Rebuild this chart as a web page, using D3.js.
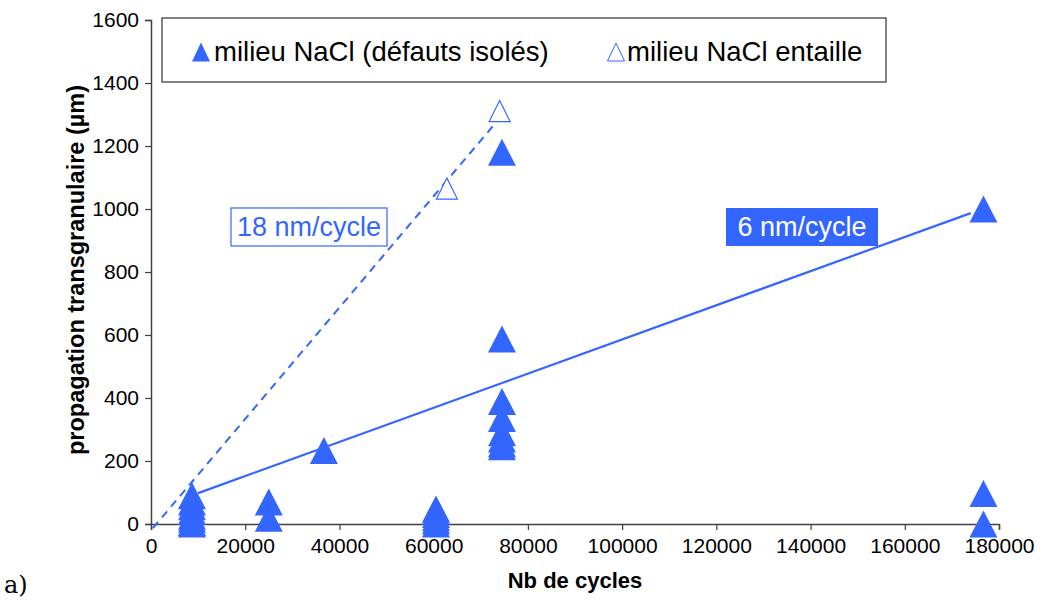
<!DOCTYPE html>
<html>
<head>
<meta charset="utf-8">
<script src="https://cdn.jsdelivr.net/npm/d3@7"></script>
<style>
  html, body { margin: 0; padding: 0; background: #ffffff; }
  svg { display: block; }
  text { font-family: "Liberation Sans", Arial, sans-serif; }
</style>
</head>
<body>
<svg id="chart" width="1040" height="601"></svg>
<script>
// ---------- data ----------
const xTicks = [0, 20000, 40000, 60000, 80000, 100000, 120000, 140000, 160000, 180000];
const yTicks = [0, 200, 400, 600, 800, 1000, 1200, 1400, 1600];

// filled triangles: milieu NaCl (défauts isolés)
const isolatedX = [8700, 8700, 8700, 8700, 8700, 8700, 8700, 8700,
                   25000, 25000,
                   36700,
                   60500, 60500, 60500, 60500, 60500, 60500,
                   74500, 74500, 74500, 74500, 74500, 74500, 74500, 74500,
                   176700, 176700, 176700];
const isolatedY = [90, 70, 55, 40, 25, 15, 5, 0,
                   70, 18,
                   233,
                   48, 40, 30, 20, 10, 0,
                   1180, 587, 389, 335, 290, 270, 255, 245,
                   1000, 97, 0];

// open triangles: milieu NaCl entaille
const notchX = [62800, 74000];
const notchY = [1065, 1311];

// trend lines
const trendSolidX = [10000, 174000];
const trendSolidY = [98, 987];
const trendDashX = [400, 73700];
const trendDashY = [-13, 1283];

const labels = ["18 nm/cycle", "6 nm/cycle"];
const legendNames = ["milieu NaCl (défauts isolés)", "milieu NaCl entaille"];

// ---------- drawing ----------
const blue = "#3366ff";
const axisCol = "#404040";
const svg = d3.select("#chart");

const x = d3.scaleLinear().domain([0, 180000]).range([151, 999]);
const y = d3.scaleLinear().domain([0, 1600]).range([524, 20]);

function tri(cx, cy, w, h) {
  return `M${cx},${cy - h / 2}L${cx + w / 2},${cy + h / 2}L${cx - w / 2},${cy + h / 2}Z`;
}

// axes
const xAxis = d3.axisBottom(x).tickValues(xTicks).tickSize(6).tickFormat(d3.format("d"));
const yAxis = d3.axisLeft(y).tickValues(yTicks).tickSize(6).tickFormat(d3.format("d"));

const gx = svg.append("g").attr("transform", `translate(0,${y(0)})`).call(xAxis);
const gy = svg.append("g").attr("transform", `translate(${x(0)},0)`).call(yAxis);
[gx, gy].forEach(g => {
  g.select(".domain").attr("stroke", axisCol).attr("stroke-width", 1.5);
  g.selectAll(".tick line").attr("stroke", axisCol).attr("stroke-width", 1.2);
  g.selectAll(".tick text").attr("fill", "#000").style("font-size", "21px")
    .style("font-family", "'Liberation Sans', Arial, sans-serif");
});
gx.selectAll(".tick text").attr("dy", "0.95em");
gy.selectAll(".tick text").attr("x", -12);

// axis titles
svg.append("text").attr("x", 575).attr("y", 588).attr("text-anchor", "middle")
  .style("font-size", "22px").style("font-weight", "bold").text("Nb de cycles");
svg.append("text").attr("transform", `translate(84,270) rotate(-90)`).attr("text-anchor", "middle")
  .style("font-size", "23.5px").style("font-weight", "bold").text("propagation transgranulaire (µm)");

// "a)"
svg.append("text").attr("x", 4).attr("y", 593)
  .style("font-family", "'DejaVu Serif', 'Liberation Serif', serif").style("font-size", "24px").text("a)");

// trend lines
svg.append("line")
  .attr("x1", x(trendDashX[0])).attr("y1", y(trendDashY[0]))
  .attr("x2", x(trendDashX[1])).attr("y2", y(trendDashY[1]))
  .attr("stroke", blue).attr("stroke-width", 2).attr("stroke-dasharray", "8,6");
svg.append("line")
  .attr("x1", x(trendSolidX[0])).attr("y1", y(trendSolidY[0]))
  .attr("x2", x(trendSolidX[1])).attr("y2", y(trendSolidY[1]))
  .attr("stroke", blue).attr("stroke-width", 2.2);

// filled markers
svg.append("g").selectAll("path").data(isolatedX.map((d, i) => [d, isolatedY[i]]))
  .join("path")
  .attr("d", d => tri(x(d[0]), y(d[1]), 28, 27))
  .attr("fill", blue);

// open markers
svg.append("g").selectAll("path").data(notchX.map((d, i) => [d, notchY[i]]))
  .join("path")
  .attr("d", d => tri(x(d[0]), y(d[1]), 21, 21))
  .attr("fill", "#fff").attr("stroke", blue).attr("stroke-width", 1.2);

// legend
svg.append("rect").attr("x", 162).attr("y", 18).attr("width", 724).attr("height", 64)
  .attr("fill", "#fff").attr("stroke", axisCol).attr("stroke-width", 1.3);
svg.append("path").attr("d", tri(201, 52, 18, 19)).attr("fill", blue);
svg.append("text").attr("x", 214).attr("y", 61).style("font-size", "27.5px").text(legendNames[0]);
svg.append("path").attr("d", tri(616, 52, 17, 18)).attr("fill", "#fff").attr("stroke", blue).attr("stroke-width", 1);
svg.append("text").attr("x", 627).attr("y", 61).style("font-size", "27.5px").text(legendNames[1]);

// slope labels
svg.append("rect").attr("x", 231).attr("y", 208).attr("width", 156).attr("height", 38)
  .attr("fill", "#fff").attr("stroke", blue).attr("stroke-width", 1.2);
svg.append("text").attr("x", 309).attr("y", 236).attr("text-anchor", "middle")
  .style("font-size", "27px").attr("fill", blue).text(labels[0]);
svg.append("rect").attr("x", 726).attr("y", 208).attr("width", 152).attr("height", 38)
  .attr("fill", blue);
svg.append("text").attr("x", 802).attr("y", 236).attr("text-anchor", "middle")
  .style("font-size", "27px").attr("fill", "#fff").text(labels[1]);
</script>
</body>
</html>
